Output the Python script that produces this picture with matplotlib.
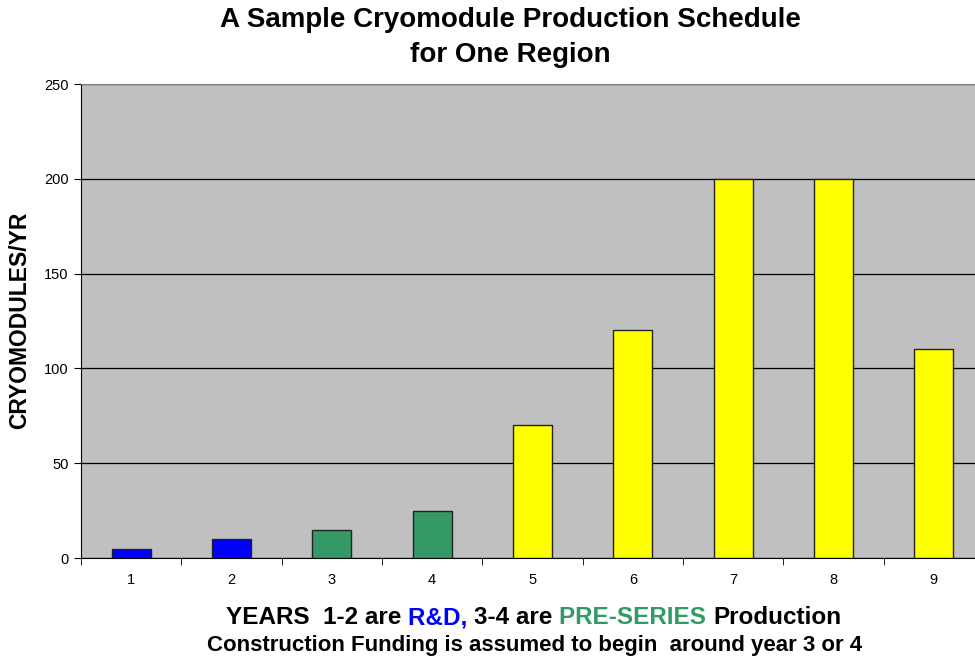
import matplotlib
matplotlib.use("Agg")
import matplotlib.pyplot as plt

plt.rcParams["font.family"] = ["Liberation Sans", "DejaVu Sans"]

# production per year, one bar per year
years = [1, 2, 3, 4, 5, 6, 7, 8, 9]
modules = [5, 10, 15, 25, 70, 120, 200, 200, 110]
bar_colors = ["#0000FF", "#0000FF", "#339966", "#339966",
              "#FFFF00", "#FFFF00", "#FFFF00", "#FFFF00", "#FFFF00"]
y_ticks = [0, 50, 100, 150, 200, 250]

fig = plt.figure(figsize=(9.75, 6.6), dpi=100)
ax = fig.add_axes([81 / 975, 1 - 558 / 660, 903 / 975, 474 / 660])
ax.set_facecolor("#C0C0C0")

ax.bar(years, modules, width=0.39, color=bar_colors,
       edgecolor="#222222", linewidth=1.0, zorder=3)

ax.set_ylim(0, 250)
ax.set_xlim(0.5, 9.5)
ax.set_yticks(y_ticks)
ax.set_yticklabels([str(v) for v in y_ticks], fontsize=10.5)
ax.yaxis.grid(True, color="black", linewidth=0.9, zorder=1)

# year labels centered, tick marks on the category boundaries
ax.set_xticks(years)
ax.set_xticklabels([str(y) for y in years], fontsize=10.5)
ax.tick_params(axis="x", length=0, pad=11)
ax.set_xticks([y + 0.5 for y in [0] + years], minor=True)
ax.tick_params(axis="x", which="minor", length=5, direction="out")
ax.tick_params(axis="y", length=5, direction="out", pad=4)

for side in ("top", "right"):
    ax.spines[side].set_color("#808080")
ax.spines["left"].set_color("black")
ax.spines["bottom"].set_color("black")

fig.text(20 / 975, 1 - 320 / 660, "CRYOMODULES/YR", rotation=90,
         ha="center", va="center", fontsize=16.5, fontweight="bold")

fig.text(510 / 975, 1 - 20 / 660, "A Sample Cryomodule Production Schedule",
         ha="center", va="center", fontsize=20, fontweight="bold")
fig.text(510 / 975, 1 - 55 / 660, "for One Region",
         ha="center", va="center", fontsize=20, fontweight="bold")

# first caption line is built from colored pieces placed end to end
pieces = [("YEARS  1-2 are ", "black"), ("R&D, ", "#0000FF"),
          ("3-4 are ", "black"), ("PRE-SERIES ", "#339966"),
          ("Production", "black")]
prev = fig.text(226 / 975, 1 - 629 / 660, pieces[0][0], color=pieces[0][1],
                fontsize=17.5, fontweight="bold", va="bottom")
for txt, col in pieces[1:]:
    prev = ax.annotate(txt, xy=(1, 0), xycoords=prev, color=col,
                       fontsize=17.5, fontweight="bold", va="bottom",
                       ha="left", annotation_clip=False)

fig.text(535 / 975, 1 - 645 / 660,
         "Construction Funding is assumed to begin  around year 3 or 4",
         ha="center", va="center", fontsize=16, fontweight="bold")

fig.savefig("out.png", dpi=100)
